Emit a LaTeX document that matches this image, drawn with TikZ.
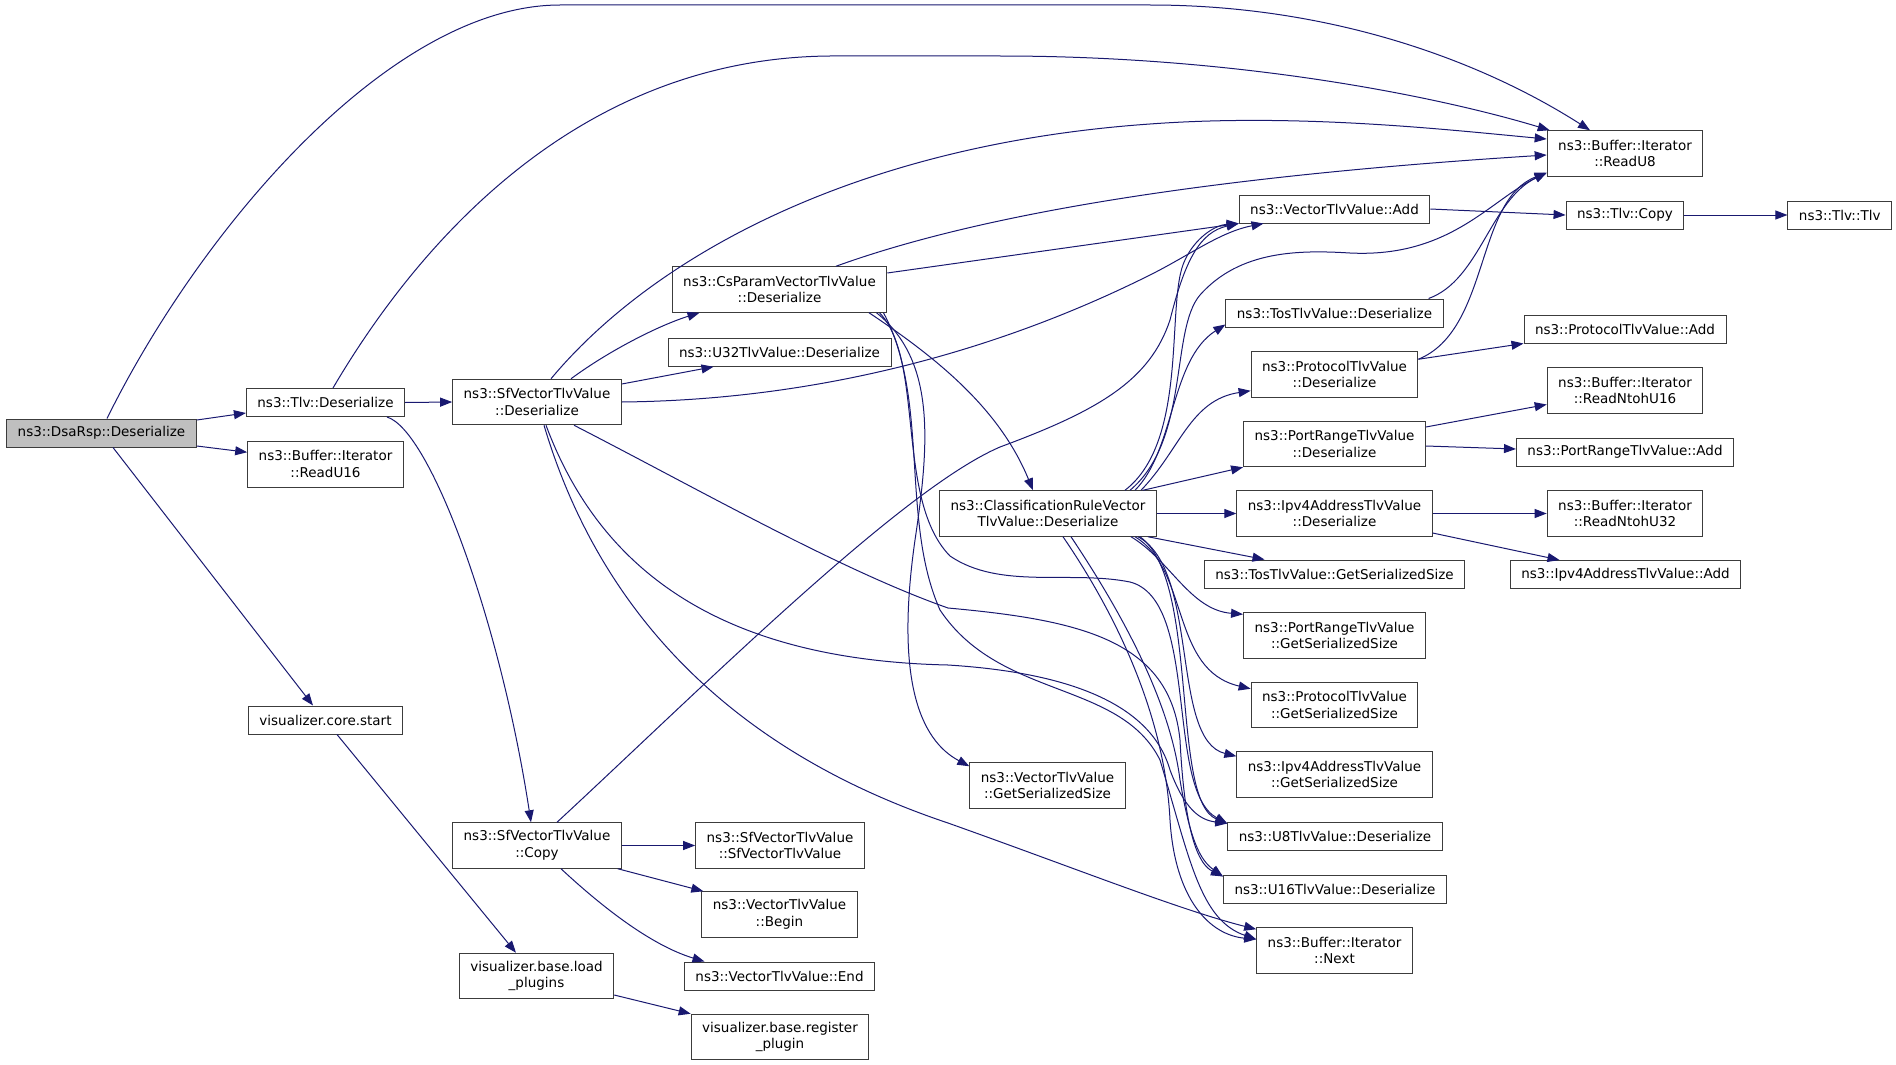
\documentclass[tikz,border=0pt]{standalone}
\usepackage{fontspec}
\setmainfont{DejaVu Sans}
\usetikzlibrary{positioning,arrows.meta}
\definecolor{edgeblue}{RGB}{25,25,112}
\definecolor{rootgray}{RGB}{191,191,191}
\definecolor{boxline}{RGB}{60,60,60}

\begin{document}
\begin{tikzpicture}[x=1pt,y=-1pt,every node/.style={fn},
				fn/.style={draw=boxline,line width=1pt,rectangle,align=center,fill=white,
					inner xsep=11pt,inner ysep=2pt,minimum height=28pt,
					font=\fontsize{13.5}{16.7}\selectfont},
				dbl/.style={minimum height=45.5pt},
				call/.style={draw=edgeblue,line width=1pt,-{Triangle[length=12pt,width=9pt]}}]
				\useasboundingbox (0,0) rectangle (1896,1065);

				\node (dsa)      [fill=rootgray] at (101.5,433)  {ns3::DsaRsp::Deserialize};
				\node (tlvdes)                   at (325.5,402.5) {ns3::Tlv::Deserialize};
				\node (rdu16)    [dbl,below=24pt of tlvdes] {ns3::Buffer::Iterator\\::ReadU16};
				\node (vizstart)                 at (325.5,720)  {visualizer.core.start};
				\node (sfdes)    [dbl]           at (537,402)    {ns3::SfVectorTlvValue\\::Deserialize};
				\node (sfcopy)   [dbl]           at (537,845.5)  {ns3::SfVectorTlvValue\\::Copy};
				\node (loadpl)   [dbl]           at (536.5,976)  {visualizer.base.load\\\_plugins};
				\node (csdes)    [dbl]           at (779.5,289.5) {ns3::CsParamVectorTlvValue\\::Deserialize};
				\node (u32des)   [below=25pt of csdes] {ns3::U32TlvValue::Deserialize};
				\node (sfctor)   [dbl]           at (780,845.5)  {ns3::SfVectorTlvValue\\::SfVectorTlvValue};
				\node (vbegin)   [dbl]           at (779.5,914.5) {ns3::VectorTlvValue\\::Begin};
				\node (vend)                     at (779.5,976)  {ns3::VectorTlvValue::End};
				\node (regpl)    [dbl]           at (780,1037)   {visualizer.base.register\\\_plugin};
				\node (crdes)    [dbl]           at (1048,513.5) {ns3::ClassificationRuleVector\\TlvValue::Deserialize};
				\node (vgss)     [dbl]           at (1047.5,785.5) {ns3::VectorTlvValue\\::GetSerializedSize};
				\node (vadd)                     at (1334.5,209) {ns3::VectorTlvValue::Add};
				\node (tosdes)                   at (1334.5,313) {ns3::TosTlvValue::Deserialize};
				\node (protdes)  [dbl]           at (1334.5,374.5) {ns3::ProtocolTlvValue\\::Deserialize};
				\node (prdes)    [dbl]           at (1334.5,444) {ns3::PortRangeTlvValue\\::Deserialize};
				\node (ipdes)    [dbl]           at (1334.5,513.5) {ns3::Ipv4AddressTlvValue\\::Deserialize};
				\node (tosgss)                   at (1334.5,574) {ns3::TosTlvValue::GetSerializedSize};
				\node (prgss)    [dbl]           at (1334.5,635.5) {ns3::PortRangeTlvValue\\::GetSerializedSize};
				\node (protgss)  [dbl]           at (1334.5,705) {ns3::ProtocolTlvValue\\::GetSerializedSize};
				\node (ipgss)    [dbl]           at (1334.5,774.5) {ns3::Ipv4AddressTlvValue\\::GetSerializedSize};
				\node (u8des)                    at (1335,836)   {ns3::U8TlvValue::Deserialize};
				\node (u16des)                   at (1335,889)   {ns3::U16TlvValue::Deserialize};
				\node (next)     [dbl]           at (1334.5,950.5) {ns3::Buffer::Iterator\\::Next};
				\node (rdu8)     [dbl]           at (1625,153.5) {ns3::Buffer::Iterator\\::ReadU8};
				\node (tlvcopy)                  at (1625,215)   {ns3::Tlv::Copy};
				\node (tlvtlv)   [right=103pt of tlvcopy] {ns3::Tlv::Tlv};
				\node (protadd)                  at (1625,329)   {ns3::ProtocolTlvValue::Add};
				\node (rdn16)    [dbl]           at (1625,390.5) {ns3::Buffer::Iterator\\::ReadNtohU16};
				\node (pradd)                    at (1625,452)   {ns3::PortRangeTlvValue::Add};
				\node (rdn32)    [dbl]           at (1625,513.5) {ns3::Buffer::Iterator\\::ReadNtohU32};
				\node (ipadd)                    at (1625.5,574.5) {ns3::Ipv4AddressTlvValue::Add};

				% DsaRsp and Tlv
				\draw[call] ([xshift=5.5pt]dsa.north) .. controls (200,230) and (390,5) .. (560,5) -- (1150,5)
					.. controls (1330,5) and (1480,60) .. ([xshift=-35pt]rdu8.north);
				\draw[call] ([yshift=13pt]dsa.east) -- ([yshift=-10.5pt]tlvdes.west);
				\draw[call] ([yshift=-13pt]dsa.east) -- ([yshift=12pt]rdu16.west);
				\draw[call] ([xshift=11.5pt]dsa.south) -- ([xshift=-12.5pt]vizstart.north);
				\draw[call] ([xshift=7.5pt]tlvdes.north) .. controls (420,240) and (580,58) .. (830,56) -- (1000,56)
					.. controls (1250,56) and (1450,100) .. ([xshift=3pt]rdu8.north west);
				\draw[call] (tlvdes.east) -- (sfdes.west);
				\draw[call] ([xshift=61.5pt]tlvdes.south) .. controls (430,430) and (500,620) .. ([xshift=-6pt]sfcopy.north);

				% SfVectorTlvValue::Deserialize
				\draw[call] ([xshift=14pt]sfdes.north) .. controls (650,260) and (850,145) .. (1150,124)
					.. controls (1300,113) and (1450,130) .. ([yshift=14.5pt]rdu8.west);
				\draw[call] ([xshift=34pt]sfdes.north) .. controls (610,350) and (660,325) .. ([xshift=-80pt]csdes.south);
				\draw[call] ([yshift=18pt]sfdes.east) -- ([xshift=-66pt]u32des.south);
				\draw[call] (sfdes.east) .. controls (820,400) and (1000,350) .. (1150,275)
					.. controls (1190,255) and (1220,232) .. ([xshift=-71pt]vadd.south);
				\draw[call] ([xshift=7pt]sfdes.south) .. controls (590,580) and (700,740) .. (948,823)
					.. controls (1080,870) and (1180,910) .. ([yshift=-2pt]next.north west);
				\draw[call] ([xshift=9pt]sfdes.south) .. controls (600,570) and (720,660) .. (948,665)
					.. controls (1060,672) and (1150,700) .. (1170,770) .. controls (1185,810) and (1200,820) .. ([yshift=-2pt]u8des.north west);
				\draw[call] ([xshift=37pt]sfdes.south) .. controls (700,490) and (840,570) .. (948,608)
					.. controls (1080,620) and (1170,640) .. (1180,740) .. controls (1185,840) and (1200,865) .. ([yshift=-2pt]u16des.north west);

				% CsParamVectorTlvValue::Deserialize
				\draw[call] ([xshift=56.5pt]csdes.north) .. controls (950,225) and (1150,180) .. ([yshift=-1.5pt]rdu8.west);
				\draw[call] ([yshift=16.5pt]csdes.east) -- (vadd.south west);
				\draw[call] ([xshift=89.5pt]csdes.south) .. controls (940,360) and (1000,410) .. ([xshift=-15pt]crdes.north);
				\draw[call] ([xshift=97pt]csdes.south) .. controls (935,360) and (930,440) .. (915,540)
					.. controls (895,680) and (920,740) .. ([yshift=-4pt]vgss.north west);
				\draw[call] ([xshift=100pt]csdes.south) .. controls (925,360) and (895,500) .. (950,556)
					.. controls (1000,590) and (1070,570) .. (1130,582) .. controls (1200,600) and (1165,790) .. ([yshift=-2pt]u8des.north west);
				\draw[call] ([xshift=104pt]csdes.south) .. controls (930,400) and (900,520) .. (940,610)
					.. controls (1000,700) and (1120,680) .. (1160,760) .. controls (1190,860) and (1200,920) .. ([yshift=-12pt]next.north west);

				% ClassificationRuleVectorTlvValue::Deserialize
				\draw[call] ([xshift=77pt]crdes.north) .. controls (1190,440) and (1165,300) .. (1185,260)
					.. controls (1195,238) and (1215,225) .. (vadd.south west);
				\draw[call] ([xshift=82pt]crdes.north) .. controls (1190,440) and (1170,330) .. (1200,295)
					.. controls (1240,250) and (1300,250) .. (1350,253) .. controls (1450,258) and (1490,200) .. ([yshift=4pt]rdu8.south west);
				\draw[call] ([xshift=87pt]crdes.north) .. controls (1175,450) and (1170,360) .. ([yshift=3pt]tosdes.south west);
				\draw[call] ([xshift=93pt]crdes.north) .. controls (1180,450) and (1190,400) .. ([yshift=7pt]protdes.south west);
				\draw[call] ([xshift=95pt]crdes.north) -- (prdes.south west);
				\draw[call] (crdes.east) -- (ipdes.west);
				\draw[call] ([xshift=100pt]crdes.south) -- ([xshift=-70pt]tosgss.north);
				\draw[call] ([xshift=83pt]crdes.south) .. controls (1170,560) and (1190,610) .. ([yshift=-2pt]prgss.north west);
				\draw[call] ([xshift=87pt]crdes.south) .. controls (1190,570) and (1170,670) .. ([yshift=-7pt]protgss.north west);
				\draw[call] ([xshift=90pt]crdes.south) .. controls (1200,570) and (1170,740) .. ([yshift=-5pt]ipgss.north west);
				\draw[call] ([xshift=92pt]crdes.south) .. controls (1200,580) and (1170,800) .. ([yshift=-2pt]u8des.north west);
				\draw[call] ([xshift=23pt]crdes.south) .. controls (1120,610) and (1170,700) .. (1180,780)
					.. controls (1190,840) and (1200,860) .. ([yshift=-2pt]u16des.north west);
				\draw[call] ([xshift=15pt]crdes.south) .. controls (1120,620) and (1165,720) .. (1170,820)
					.. controls (1175,900) and (1210,935) .. ([yshift=-12pt]next.north west);

				% right column
				\draw[call] (vadd.east) -- (tlvcopy.west);
				\draw[call] (tlvcopy) -- (tlvtlv);
				\draw[call] ([xshift=-15pt]tosdes.north east) .. controls (1480,280) and (1490,200) .. ([yshift=4pt]rdu8.south west);
				\draw[call] ([yshift=-8pt]protdes.north east) .. controls (1490,330) and (1475,200) .. ([yshift=4pt]rdu8.south west);
				\draw[call] ([yshift=-8pt]protdes.north east) -- (protadd.south west);
				\draw[call] ([yshift=17pt]prdes.east) -- ([yshift=-14pt]rdn16.west);
				\draw[call] ([yshift=-2pt]prdes.east) -- ([yshift=3pt]pradd.west);
				\draw[call] (ipdes) -- (rdn32);
				\draw[call] ([yshift=-19.5pt]ipdes.east) -- ([xshift=-66pt]ipadd.north);

				% Copy and visualizer
				\draw[call] ([xshift=20pt]sfcopy.north) .. controls (700,690) and (900,490) .. (1000,447)
					.. controls (1100,410) and (1150,380) .. (1170,320) .. controls (1185,260) and (1200,232) .. (vadd.south west);
				\draw[call] (sfcopy) -- (sfctor);
				\draw[call] ([xshift=-4pt]sfcopy.south east) -- ([xshift=2pt]vbegin.north west);
				\draw[call] ([xshift=24pt]sfcopy.south) .. controls (600,905) and (650,945) .. ([xshift=-75pt]vend.north);
				\draw[call] ([xshift=11.5pt]vizstart.south) -- ([xshift=-20.5pt]loadpl.north);
				\draw[call] ([yshift=-19pt]loadpl.east) -- (regpl.north west);
			\end{tikzpicture}
\end{document}
